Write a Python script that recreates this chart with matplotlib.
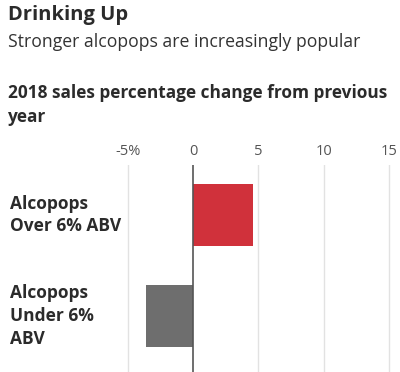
import matplotlib
matplotlib.use("Agg")
import matplotlib.pyplot as plt

plt.rcParams["font.family"] = ["Open Sans", "DejaVu Sans"]

categories = ["Alcopops\nOver 6% ABV", "Alcopops\nUnder 6%\nABV"]
values = [4.6, -3.6]
bar_colors = ["#D0313B", "#6E6E6E"]
xticks = [-5, 0, 5, 10, 15]
xtick_labels = ["-5%", "0", "5", "10", "15"]

W, H = 400, 372
fig = plt.figure(figsize=(W / 100, H / 100), dpi=100)
fig.patch.set_facecolor("white")

# axes placed in pixel terms
left, right, top, bottom = 120, 395, 165, 372
ax = fig.add_axes([left / W, 1 - bottom / H, (right - left) / W, (bottom - top) / H])

y = list(range(len(categories)))
ax.barh(y, values, color=bar_colors, height=0.61, zorder=3)
ax.set_xlim(-5.59, 15.44)
ax.set_ylim(1.555, -0.497)

for t in xticks:
    if t != 0:
        ax.axvline(t, color="#E2E2E2", lw=1, zorder=1)
ax.axvline(0, color="#555555", lw=1.2, zorder=4)

ax.set_xticks(xticks)
ax.set_xticklabels(xtick_labels, fontsize=10.5, color="#555555")
ax.xaxis.tick_top()
ax.tick_params(axis="x", length=0, pad=4)
ax.set_yticks([])
for s in ax.spines.values():
    s.set_visible(False)

# category labels on the left
for i, lab in enumerate(categories):
    fig.text(10 / W, 1 - (215 + 100.7 * i) / H, lab, ha="left", va="center",
             fontsize=12.5, fontweight="bold", color="#2B2B2B", linespacing=1.35)

fig.text(8 / W, 1 - 15 / H, "Drinking Up", ha="left", va="center",
         fontsize=14.5, fontweight="bold", color="#2B2B2B")
fig.text(8 / W, 1 - 42 / H, "Stronger alcopops are increasingly popular", ha="left",
         va="center", fontsize=12.7, color="#333333")
fig.text(8 / W, 1 - 105 / H, "2018 sales percentage change from previous\nyear",
         ha="left", va="center", fontsize=12.4, fontweight="bold", color="#2B2B2B",
         linespacing=1.42)

fig.savefig("out.png", dpi=100)
